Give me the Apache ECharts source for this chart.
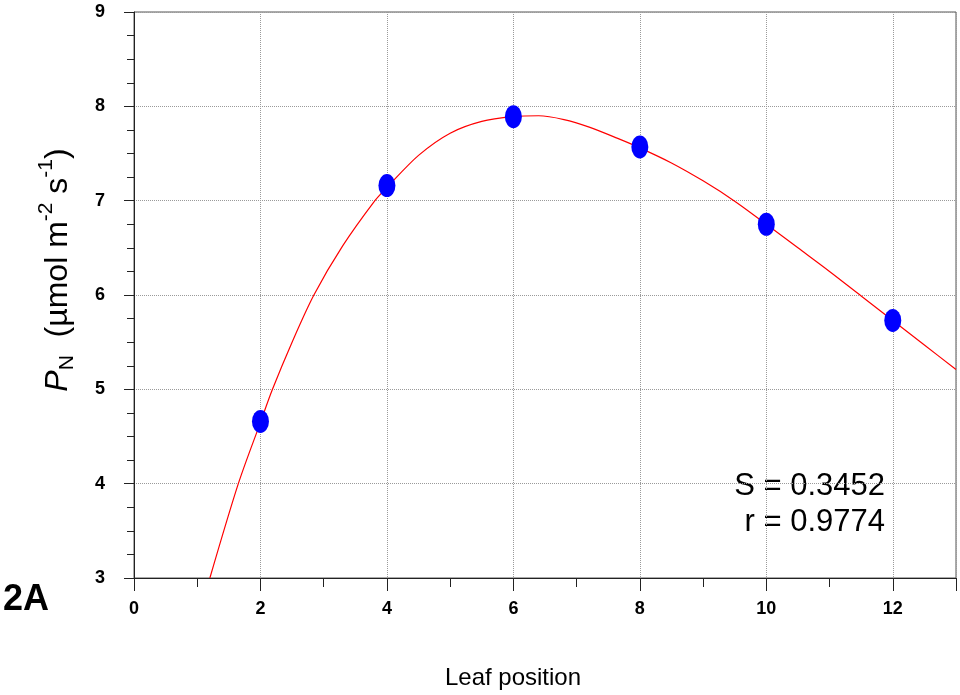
<!doctype html>
<html>
<head>
<meta charset="UTF-8">
<title>Leaf position - PN</title>
<script src="https://cdn.jsdelivr.net/npm/echarts@6/dist/echarts.min.js"></script>
<style>
	html, body { margin: 0; padding: 0; background: #fff; }
	#main { width: 960px; height: 695px; }
</style>
</head>
<body>
<div id="main"></div>
<script type="text/javascript">
	// measured points
	var leafPos = [2, 4, 6, 8, 10, 12];
	var pnValues = [4.66, 7.16, 7.89, 7.57, 6.75, 5.73];

	// fitted curve
	var curveX = [1.2, 1.65, 2.0, 2.19, 2.5, 2.845, 3.3, 3.81, 4.0, 4.5, 5.0, 5.5, 6.0, 6.4, 6.8, 7.2, 7.65, 8.0, 8.5, 9.0, 9.5, 10.0, 10.5, 11.0, 11.5, 12.0, 12.5, 13.0];
	var curveY = [3.0, 4.0, 4.65, 5.0, 5.5, 6.0, 6.52, 7.0, 7.14, 7.48, 7.715, 7.84, 7.89, 7.9, 7.86, 7.78, 7.66, 7.56, 7.40, 7.21, 6.995, 6.75, 6.50, 6.25, 5.99, 5.73, 5.47, 5.21];

	var xTicks = [0, 2, 4, 6, 8, 10, 12];
	var yTicks = [3, 4, 5, 6, 7, 8, 9];

	var fitText = ['S = 0.3452', 'r = 0.9774'];

	var font = '"Liberation Sans", Arial, sans-serif';

	var curveData = curveX.map(function(x, i) {
		return [x, curveY[i]];
	});
	var pointData = leafPos.map(function(x, i) {
		return [x, pnValues[i]];
	});

	var gridLine = {
		show: true,
		lineStyle: {
			color: '#9a9a9a',
			width: 1,
			type: [1, 1]
		}
	};

	var option = {
		animation: false,
		backgroundColor: '#fff',
		textStyle: { fontFamily: font },
		grid: {
			left: 134,
			top: 12,
			width: 822,
			height: 567,
			show: true,
			borderColor: '#555',
			borderWidth: 1
		},
		xAxis: {
			type: 'value',
			min: xTicks[0],
			max: 13,
			interval: 2,
			name: 'Leaf position',
			nameLocation: 'middle',
			nameGap: 88,
			nameTextStyle: {
				fontSize: 24,
				color: '#000',
				fontFamily: font,
				padding: [0, 64, 0, 0]
			},
			axisLine: { show: true, lineStyle: { color: '#222', width: 1 } },
			axisTick: { show: true, length: 13, lineStyle: { color: '#222' } },
			minorTick: { show: true, splitNumber: 2, length: 9, lineStyle: { color: '#222' } },
			axisLabel: {
				fontSize: 18,
				fontWeight: 'bold',
				color: '#000',
				margin: 22,
				showMaxLabel: false,
				formatter: function(v) {
					return xTicks.indexOf(v) >= 0 ? String(v) : '';
				}
			},
			splitLine: gridLine
		},
		yAxis: {
			type: 'value',
			min: yTicks[0],
			max: yTicks[yTicks.length - 1],
			interval: 1,
			name: '{i|P}{sub|N}{t|  (µmol m}{sup|-2}{t| s}{sup|-1}{t|)}',
			nameLocation: 'middle',
			nameRotate: 90,
			nameGap: 60,
			nameTextStyle: {
				color: '#000',
				fontFamily: font,
				padding: [0, 0, 0, 50],
				rich: {
					i: { fontSize: 32, fontStyle: 'italic', color: '#000', lineHeight: 40, verticalAlign: 'bottom' },
					t: { fontSize: 32, color: '#000', lineHeight: 40, verticalAlign: 'bottom' },
					sub: { fontSize: 21, color: '#000', lineHeight: 40, verticalAlign: 'bottom', padding: [0, 0, -4, 0] },
					sup: { fontSize: 21, color: '#000', lineHeight: 40, verticalAlign: 'top', padding: [2, 0, 0, 0] }
				}
			},
			axisLine: { show: true, lineStyle: { color: '#222', width: 1 } },
			axisTick: { show: true, length: 10, lineStyle: { color: '#222' } },
			minorTick: { show: true, splitNumber: 4, length: 7, lineStyle: { color: '#222' } },
			axisLabel: {
				fontSize: 18,
				fontWeight: 'bold',
				color: '#000',
				margin: 29
			},
			splitLine: gridLine
		},
		graphic: [{
			type: 'text',
			left: 3,
			top: 582,
			style: {
				text: '2A',
				fontSize: 36,
				fontWeight: 'bold',
				fontFamily: font,
				fill: '#000'
			}
		}, {
			type: 'text',
			x: 885,
			y: 471,
			style: {
				text: fitText[0],
				fontSize: 31,
				align: 'right',
				verticalAlign: 'top',
				fontFamily: font,
				fill: '#000'
			}
		}, {
			type: 'text',
			x: 885,
			y: 507,
			style: {
				text: fitText[1],
				fontSize: 31,
				align: 'right',
				verticalAlign: 'top',
				fontFamily: font,
				fill: '#000'
			}
		}],
		series: [{
			name: 'fit',
			type: 'line',
			data: curveData,
			showSymbol: false,
			smooth: 0.3,
			lineStyle: { color: '#ff0000', width: 1.2 },
			z: 2
		}, {
			name: 'PN',
			type: 'scatter',
			data: pointData,
			symbol: 'circle',
			symbolSize: [17, 23],
			itemStyle: { color: '#0000ff', opacity: 1 },
			z: 3
		}]
	};

	var chart = echarts.init(document.getElementById('main'));
	chart.setOption(option);
</script>
</body>
</html>
